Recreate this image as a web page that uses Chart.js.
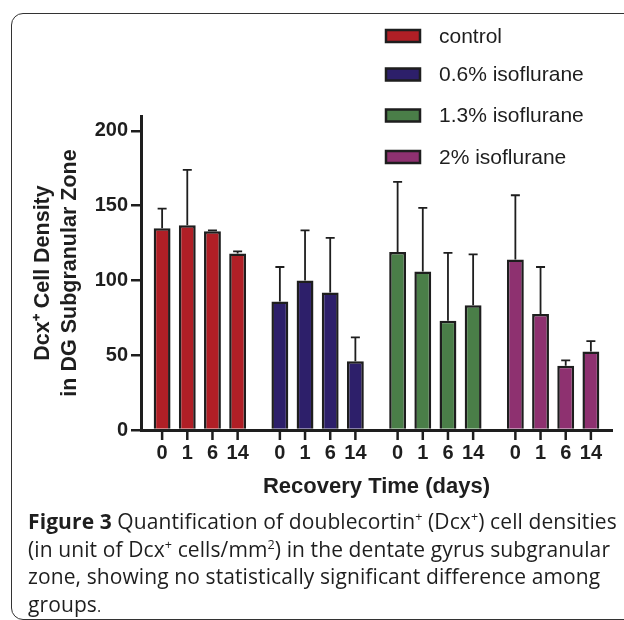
<!DOCTYPE html>
<html>
<head>
<meta charset="utf-8">
<script src="https://cdn.jsdelivr.net/npm/chart.js@4/dist/chart.umd.min.js"></script>
<style>
  html, body { margin:0; padding:0; background:#fff; width:624px; height:620px; overflow:hidden; }
  body { position:relative; }
  #frame { position:absolute; left:11px; top:13px; width:800px; height:605px; border:1.5px solid #333; border-radius:12px; }
  #c { position:absolute; left:0; top:0; }
  #caption { position:absolute; left:28px; top:508px; font-family:"Open Sans", Lato, sans-serif; font-size:21px; line-height:27.5px; color:#1e1e1e; white-space:nowrap; letter-spacing:0.1px; }
  #caption sup { font-size:0.6em; line-height:0; vertical-align:0.65em; }
  #caption .dot { font-size:0.75em; }
</style>
</head>
<body>
<div id="frame"></div>
<canvas id="c" width="624" height="620"></canvas>
<div id="caption">
<b>Figure 3</b> Quantification of doublecortin<sup>+</sup> (Dcx<sup>+</sup>) cell densities<br>
(in unit of Dcx<sup>+</sup> cells/mm<sup>2</sup>) in the dentate gyrus subgranular<br>
zone, showing no statistically significant difference among<br>
groups<span class="dot">.</span>
</div>
<script>
// ---- data ----
const groups = ['control', '0.6% isoflurane', '1.3% isoflurane', '2% isoflurane'];
const days = ['0', '1', '6', '14'];
const controlMean = [135, 137, 133, 118];
const controlErr  = [13, 37, 0.5, 1.5];
const iso06Mean   = [86, 100, 92, 46];
const iso06Err    = [23, 33.5, 36.5, 16];
const iso13Mean   = [119, 106, 73, 83.5];
const iso13Err    = [47, 42.5, 45.5, 34];
const iso2Mean    = [114, 77.5, 43, 52.5];
const iso2Err     = [43, 31.5, 3.5, 7];
const yTicks = [0, 50, 100, 150, 200];
const groupColors = ['#B01F26', '#2D1F6A', '#4A7E48', '#8E3170'];

const means = [controlMean, iso06Mean, iso13Mean, iso2Mean];
const errs  = [controlErr, iso06Err, iso13Err, iso2Err];
const FONT = "'Liberation Sans', Arial, sans-serif";
const INK = '#1e1e1e';

const datasets = days.map((d, di) => ({
  label: 'Day ' + d,
  data: means.map(m => m[di]),
  errors: errs.map(e => e[di]),
  backgroundColor: groupColors,
  borderColor: INK,
  borderWidth: 2.5,
  barPercentage: 0.67,
  categoryPercentage: 0.855
}));

const errorBars = {
  id: 'errorBars',
  afterDatasetsDraw(chart) {
    const ctx = chart.ctx, y = chart.scales.y;
    ctx.save();
    ctx.strokeStyle = INK;
    ctx.lineWidth = 1.8;
    chart.data.datasets.forEach((ds, i) => {
      chart.getDatasetMeta(i).data.forEach((bar, j) => {
        const top = y.getPixelForValue(ds.data[j] + ds.errors[j]);
        const base = y.getPixelForValue(ds.data[j]);
        ctx.beginPath();
        ctx.moveTo(bar.x, base);
        ctx.lineTo(bar.x, top);
        ctx.moveTo(bar.x - 4.5, top);
        ctx.lineTo(bar.x + 4.5, top);
        ctx.stroke();
      });
    });
    ctx.restore();
  }
};

const dayTicks = {
  id: 'dayTicks',
  afterDraw(chart) {
    const ctx = chart.ctx, bottom = chart.chartArea.bottom;
    ctx.save();
    ctx.strokeStyle = INK;
    ctx.fillStyle = INK;
    ctx.lineWidth = 2.5;
    ctx.font = 'bold 20px ' + FONT;
    ctx.textAlign = 'center';
    ctx.textBaseline = 'middle';
    chart.data.datasets.forEach((ds, i) => {
      chart.getDatasetMeta(i).data.forEach(bar => {
        ctx.beginPath();
        ctx.moveTo(bar.x, bottom);
        ctx.lineTo(bar.x, bottom + 10);
        ctx.stroke();
        ctx.fillText(days[i], bar.x, bottom + 23);
      });
    });
    ctx.restore();
  }
};

const groupLegend = {
  id: 'groupLegend',
  afterDraw(chart) {
    const ctx = chart.ctx;
    const rows = [36, 74.5, 115.5, 157];
    ctx.save();
    ctx.font = '21px ' + FONT;
    ctx.textBaseline = 'middle';
    groups.forEach((g, i) => {
      const cy = rows[i];
      ctx.fillStyle = groupColors[i];
      ctx.fillRect(386, cy - 6, 34, 12);
      ctx.strokeStyle = INK;
      ctx.lineWidth = 2.5;
      ctx.strokeRect(386, cy - 6, 34, 12);
      ctx.fillStyle = INK;
      ctx.fillText(g, 439, cy + 1);
    });
    ctx.restore();
  }
};

new Chart(document.getElementById('c'), {
  type: 'bar',
  data: { labels: groups, datasets },
  options: {
    responsive: false,
    animation: false,
    devicePixelRatio: 1,
    layout: { padding: { top: 116, right: 12, bottom: 0, left: 0 } },
    plugins: { legend: { display: false }, tooltip: { enabled: false } },
    scales: {
      x: {
        type: 'category',
        grid: { display: false },
        border: { display: true, color: INK, width: 3 },
        ticks: { display: false },
        title: {
          display: true,
          text: 'Recovery Time (days)',
          color: INK,
          font: { family: FONT, size: 22, weight: 'bold' },
          padding: { top: 0, bottom: 120 }
        },
        afterFit(s) { s.height = 190; }
      },
      y: {
        min: 0,
        max: 210,
        afterBuildTicks(s) { s.ticks = yTicks.map(v => ({ value: v })); },
        grid: { display: true, drawOnChartArea: false, drawTicks: true, tickLength: 10, color: INK, lineWidth: 2.5 },
        border: { display: true, color: INK, width: 3 },
        ticks: { color: INK, padding: 3, font: { family: FONT, size: 20, weight: 'bold' } },
        title: {
          display: true,
          text: ['Dcx\u207A Cell Density', 'in DG Subgranular Zone'],
          color: INK,
          font: { family: FONT, size: 21.5, weight: 'bold', lineHeight: 1.27 },
          padding: { top: 29.5, bottom: 0 }
        },
        afterFit(s) { s.width = 141; }
      }
    }
  },
  plugins: [errorBars, dayTicks, groupLegend]
});
</script>
</body>
</html>
